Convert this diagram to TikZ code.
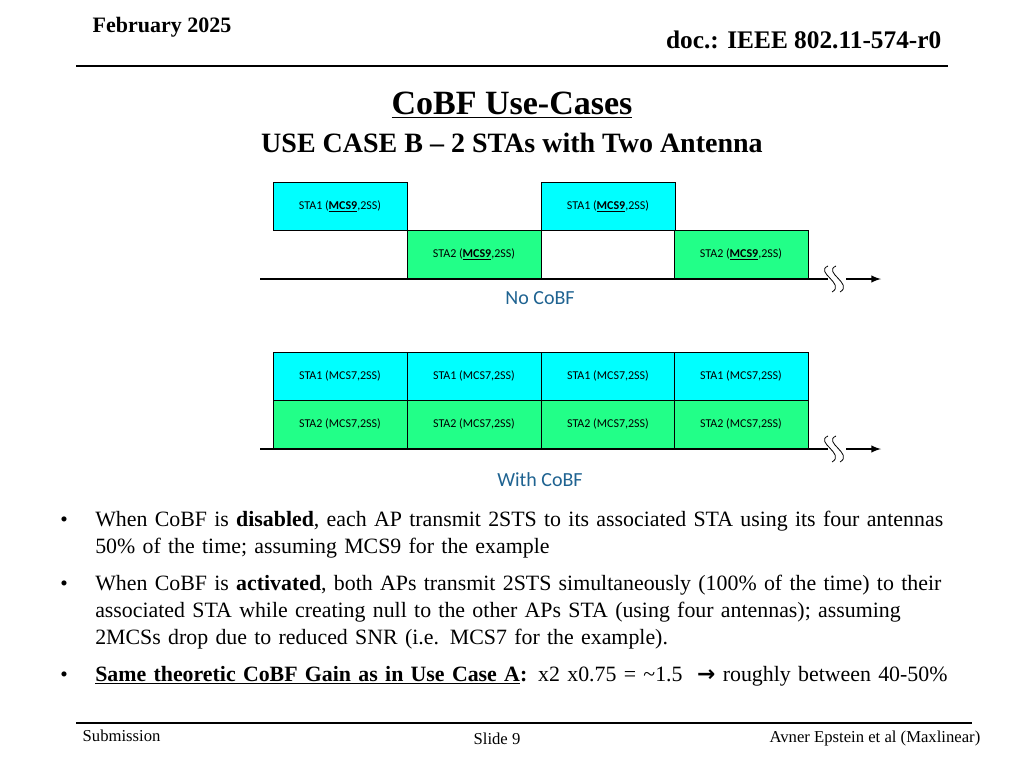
\documentclass[tikz,border=0pt]{standalone}
\usepackage{fontspec}
\setmainfont{Liberation Serif}
\newfontfamily\boxfont{Carlito}
\newfontfamily\symfont{DejaVu Sans}
\usepackage{tikz}
\usetikzlibrary{positioning}
\usepackage{xcolor}
\definecolor{staone}{HTML}{00FFFF}
\definecolor{statwo}{HTML}{22FF88}
\definecolor{caplbl}{HTML}{1F6391}
\hyphenpenalty=10000
\tikzset{
  slot/.style={draw, line width=0.6pt, minimum width=100.5pt, minimum height=36pt, inner sep=0pt, font=\boxfont\fontsize{9}{10}\selectfont},
  bul/.style={anchor=north west, text width=645pt, align=left, inner sep=0pt, font=\fontsize{16.4}{20.3}\selectfont},
  brk/.style={line width=0.6pt}
}
\begin{document}
\begin{tikzpicture}[x=0.75pt,y=-0.75pt]
\useasboundingbox (0,0) rectangle (1024,768);
% header
\node[anchor=base west, font=\bfseries\fontsize{16.5}{18}\selectfont] (date) at (88,32) {February 2025};
\node[anchor=base east, font=\bfseries\fontsize{19}{21}\selectfont] (doc) at (946,48) {doc.: IEEE 802.11-574-r0};
\draw[line width=0.8pt] (76,66) -- (948,66);
\node[font=\bfseries\fontsize{25.5}{30}\selectfont] (title) at (512,105) {\underline{CoBF Use-Cases}};
\node[font=\bfseries\fontsize{21}{24}\selectfont] (sub) at (512,143) {USE CASE B -- 2 STAs with Two Antenna};
% no CoBF
\node[slot, fill=staone] (a1) at (340,206) {STA1 (\textbf{\underline{MCS9}},2SS)};
\node[slot, fill=statwo] (b1) at (474,254) {STA2 (\textbf{\underline{MCS9}},2SS)};
\node[slot, fill=staone] (a2) at (608,206) {STA1 (\textbf{\underline{MCS9}},2SS)};
\node[slot, fill=statwo] (b2) at (741,254) {STA2 (\textbf{\underline{MCS9}},2SS)};
\coordinate (t0) at (260,279);
\coordinate (t1) at (828,279);
\coordinate (t2) at (846,279);
\coordinate (t3) at (881,279);
\draw[line width=1.5pt] (t0) -- (t1);
\draw[line width=1.5pt, -latex] (t2) -- (t3);
\draw[brk] (828,266) .. controls (814,272) and (846,284) .. (832,292);
\draw[brk] (836,266) .. controls (822,272) and (854,284) .. (840,292);
\node[text=caplbl, font=\boxfont\fontsize{15}{17}\selectfont] (lbl1) at (540,298) {No CoBF};
% with CoBF
\foreach \i/\x in {1/340,2/474,3/608,4/741}{
  \node[slot, fill=staone] (c\i) at (\x,376) {STA1 (MCS7,2SS)};
  \node[slot, fill=statwo] (d\i) at (\x,424) {STA2 (MCS7,2SS)};
}
\coordinate (u0) at (260,449);
\coordinate (u1) at (828,449);
\coordinate (u2) at (846,449);
\coordinate (u3) at (881,449);
\draw[line width=1.5pt] (u0) -- (u1);
\draw[line width=1.5pt, -latex] (u2) -- (u3);
\draw[brk] (828,436) .. controls (814,442) and (846,454) .. (832,462);
\draw[brk] (836,436) .. controls (822,442) and (854,454) .. (840,462);
\node[text=caplbl, font=\boxfont\fontsize{15}{17}\selectfont] (lbl2) at (540,480) {With CoBF};
% bullets
\node[bul] (p1) at (95,511) {When CoBF is \textbf{disabled}, each AP transmit 2STS to its associated STA using its four antennas 50\% of the time; assuming MCS9 for the example};
\node[bul] (p2) at (95,575) {When CoBF is \textbf{activated}, both APs transmit 2STS simultaneously (100\% of the time) to their associated STA while creating null to the other APs STA (using four antennas); assuming 2MCSs drop due to reduced SNR (i.e. MCS7 for the example).};
\node[bul] (p3) at (95,666) {\textbf{\underline{Same theoretic CoBF Gain as in Use Case A}:} x2 x0.75 = \textasciitilde1.5 \ {\symfont\bfseries →} roughly between 40-50\%};
\foreach \y in {522,586,677}
  \node[font=\fontsize{16}{18}\selectfont] at (64,\y) {•};
% footer
\draw[line width=0.8pt] (76,723) -- (972,723);
\node[anchor=base west, font=\fontsize{12.5}{14}\selectfont] (subm) at (78,741) {Submission};
\node[anchor=base, font=\fontsize{12.5}{14}\selectfont] (slide) at (497,744) {Slide 9};
\node[anchor=base east, font=\fontsize{12.5}{14}\selectfont] (auth) at (985,742) {Avner Epstein et al (Maxlinear)};
\end{tikzpicture}
\end{document}
